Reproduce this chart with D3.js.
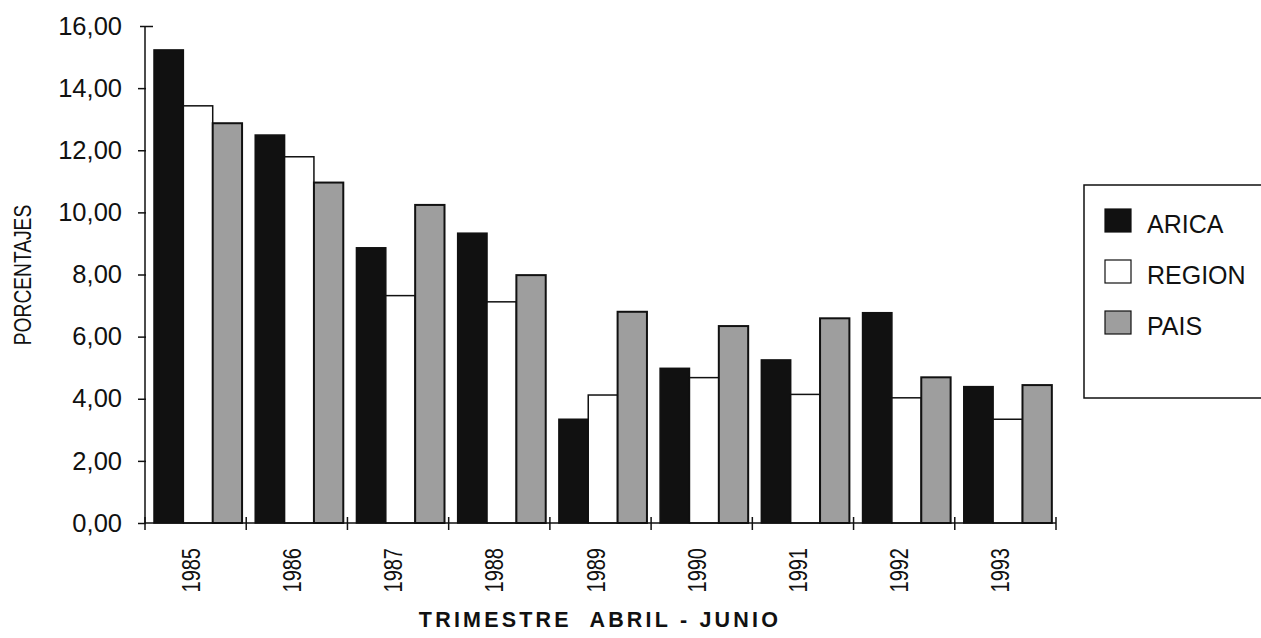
<!DOCTYPE html>
<html><head><meta charset="utf-8">
<script src="https://cdn.jsdelivr.net/npm/d3@7"></script>
<style>
html,body{margin:0;padding:0;background:#fff;}
svg{display:block;}
</style></head>
<body><svg id="c" width="1261" height="638"></svg>
<script>
const years = ["1985","1986","1987","1988","1989","1990","1991","1992","1993"];
const arica = [15.23, 12.49, 8.86, 9.33, 3.34, 4.98, 5.25, 6.77, 4.39];
const region = [13.43, 11.79, 7.32, 7.12, 4.12, 4.68, 4.14, 4.03, 3.34];
const pais = [12.87, 10.96, 10.24, 7.98, 6.80, 6.34, 6.59, 4.69, 4.44];
const seriesNames = ["ARICA","REGION","PAIS"];
const yTicks = [0,2,4,6,8,10,12,14,16];
const xTitle = "TRIMESTRE  ABRIL - JUNIO";
const yTitle = "PORCENTAJES";

const fills = {ARICA:"#111", REGION:"#fff", PAIS:"#9e9e9e"};
const svg = d3.select("#c");
const sansFont = "'Liberation Sans', Arial, sans-serif";

const x0 = d3.scaleBand().domain(years).range([145,1056]).padding(0);
const x1 = d3.scaleBand().domain(seriesNames).range([9, 9 + x0.bandwidth()*0.87]);
const y = d3.scaleLinear().domain([0,16]).range([523,26]);

const table = years.map((yr,i)=>({year:yr, vals:[
  {s:"ARICA", v:arica[i]}, {s:"REGION", v:region[i]}, {s:"PAIS", v:pais[i]}]}));

// bars
const g = svg.append("g");
g.selectAll("g.grp").data(table).join("g").attr("class","grp")
 .attr("transform", d=>`translate(${x0(d.year)},0)`)
 .selectAll("rect").data(d=>d.vals).join("rect")
 .attr("x", d=>x1(d.s)).attr("width", x1.bandwidth())
 .attr("y", d=>y(d.v)).attr("height", d=>y(0)-y(d.v))
 .attr("fill", d=>fills[d.s])
 .attr("stroke", "#111")
 .attr("stroke-width", d=>d.s==="PAIS"?2:1.5);

// y axis
const yAxis = d3.axisLeft(y).tickValues(yTicks).tickSize(7).tickPadding(16)
  .tickFormat(d=>d3.format(".2f")(d).replace(".",","));
const ya = svg.append("g").attr("transform","translate(145,0)").call(yAxis);
ya.select(".domain").attr("stroke","#111").attr("stroke-width",1.5).attr("d","M0,26V523");
ya.selectAll(".tick line").attr("stroke","#111").attr("stroke-width",1.5)
  .attr("x2", d=>d===16?-5:-7).attr("x1", d=>d===16?8:1);
ya.selectAll(".tick text").attr("font-family",sansFont).attr("font-size",25.5).attr("fill","#111");

// x axis
const xAxis = d3.axisBottom(x0).tickSize(0).tickPadding(0).tickFormat("");
const xa = svg.append("g").attr("transform","translate(0,523)").call(xAxis);
xa.select(".domain").attr("stroke","#111").attr("stroke-width",1.5).attr("d","M145,0H1056");
xa.selectAll(".tick line").remove();
const bounds = years.map(yr=>x0(yr)).concat([x0(years[years.length-1])+x0.step()]);
xa.selectAll("line.bt").data(bounds).join("line").attr("class","bt")
  .attr("x1",d=>d).attr("x2",d=>d).attr("y1",-6).attr("y2",7)
  .attr("stroke","#111").attr("stroke-width",1.5);
xa.selectAll("text.yl").data(years).join("text").attr("class","yl")
  .attr("transform", d=>`translate(${x0(d)+x0.bandwidth()/2+4},25) rotate(-90) scale(0.8,1)`)
  .attr("text-anchor","end")
  .attr("font-family",sansFont).attr("font-size",25).attr("fill","#111")
  .text(d=>d);

// titles
svg.append("text").attr("x",600).attr("y",627).attr("text-anchor","middle")
  .attr("font-family",sansFont).attr("font-weight","bold").attr("font-size",21.5)
  .attr("letter-spacing","3.2px").attr("fill","#111").style("white-space","pre")
  .text(xTitle);
svg.append("text").attr("transform","translate(31,275) rotate(-90) scale(0.8,1)").attr("text-anchor","middle")
  .attr("font-family",sansFont).attr("font-size",24).attr("fill","#111")
  .text(yTitle);

// legend
const lg = svg.append("g");
lg.append("path").attr("d","M1265,185H1084V398H1265").attr("fill","none")
  .attr("stroke","#111").attr("stroke-width",1.5);
const ly = d3.scalePoint().domain(seriesNames).range([224,326]);
const li = lg.selectAll("g.li").data(seriesNames).join("g").attr("class","li")
  .attr("transform", d=>`translate(0,${ly(d)})`);
li.append("rect").attr("x",1105).attr("y",-15).attr("width",26).attr("height",23)
  .attr("fill",d=>fills[d]).attr("stroke","#111").attr("stroke-width",1.2);
li.append("text").attr("x",1147).attr("y",0).attr("dy","0.35em")
  .attr("font-family",sansFont).attr("font-size",25).attr("fill","#111").text(d=>d);
</script></body></html>
